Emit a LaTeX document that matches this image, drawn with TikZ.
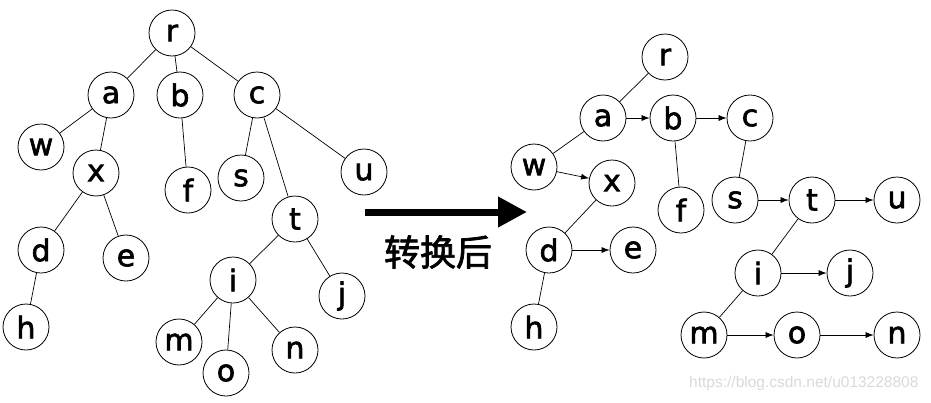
\documentclass[tikz,border=0pt]{standalone}
\usepackage{fontspec}
\setmainfont{DejaVu Sans}[FakeBold=2]
\newfontfamily\cjk{Noto Sans CJK SC}[FakeBold=2]
\newfontfamily\wmfont{Liberation Sans}
\usetikzlibrary{arrows.meta}
\begin{document}
\begin{tikzpicture}[x=1pt,y=-1pt,
  tn/.style={circle,draw,line width=0.8pt,minimum size=46pt,inner sep=0pt,font=\fontsize{30}{30}\selectfont},
  edge/.style={line width=0.7pt},
  arr/.style={line width=0.7pt,-{Latex[length=8pt,width=6pt]}}]
\useasboundingbox (0,0) rectangle (931,402);
% left tree
\node[tn] (r) at (172,33) {r};
\node[tn] (a) at (111,95) {a};
\node[tn] (b) at (180,95) {b};
\node[tn] (c) at (257,95) {c};
\node[tn] (w) at (41,147) {w};
\node[tn] (x) at (96,173) {x};
\node[tn] (f) at (188,190) {f};
\node[tn] (s) at (241,178) {s};
\node[tn] (u) at (364,172) {u};
\node[tn] (t) at (295,219) {t};
\node[tn] (d) at (41,250) {d};
\node[tn] (e) at (126,258) {e};
\node[tn] (i) at (233,280) {i};
\node[tn] (j) at (342,296) {j};
\node[tn] (h) at (26,327) {h};
\node[tn] (m) at (179,342) {m};
\node[tn] (o) at (226,373) {o};
\node[tn] (n) at (295,350) {n};
\foreach \p/\q in {r/a,r/b,r/c,a/w,a/x,b/f,c/s,c/t,c/u,x/d,x/e,d/h,t/i,t/j,i/m,i/o,i/n}
  \draw[edge] (\p) -- (\q);
% big arrow
\coordinate (A1) at (365,212);
\coordinate (A2) at (527,212);
\draw[line width=7pt,-{Triangle[length=29pt,width=29pt]}] (A1) -- (A2);
\node[font=\cjk\fontsize{36}{36}\selectfont] (lbl) at (438,252) {转换后};
% right tree
\node[tn] (R) at (665,57) {r};
\node[tn] (A) at (603,118) {a};
\node[tn] (B) at (673,118) {b};
\node[tn] (C) at (750,118) {c};
\node[tn] (W) at (534,167) {w};
\node[tn] (X) at (612,183) {x};
\node[tn] (F) at (681,210) {f};
\node[tn] (S) at (735,200) {s};
\node[tn] (T) at (812,200) {t};
\node[tn] (U) at (897,200) {u};
\node[tn] (D) at (549,250) {d};
\node[tn] (E) at (633,250) {e};
\node[tn] (H) at (534,327) {h};
\node[tn] (I) at (758,273) {i};
\node[tn] (J) at (850,273) {j};
\node[tn] (M) at (704,335) {m};
\node[tn] (O) at (797,335) {o};
\node[tn] (N) at (897,335) {n};
\foreach \p/\q in {R/A,A/W,B/F,C/S,X/D,D/H,T/I,I/M}
  \draw[edge] (\p) -- (\q);
\foreach \p/\q in {A/B,B/C,W/X,S/T,T/U,D/E,I/J,M/O,O/N}
  \draw[arr] (\p) -- (\q);
% watermark
\node[font=\wmfont\fontsize{15.5}{15.5}\selectfont,text=black!15,anchor=east] (wm) at (922,383) {https://blog.csdn.net/u013228808};
\end{tikzpicture}
\end{document}
